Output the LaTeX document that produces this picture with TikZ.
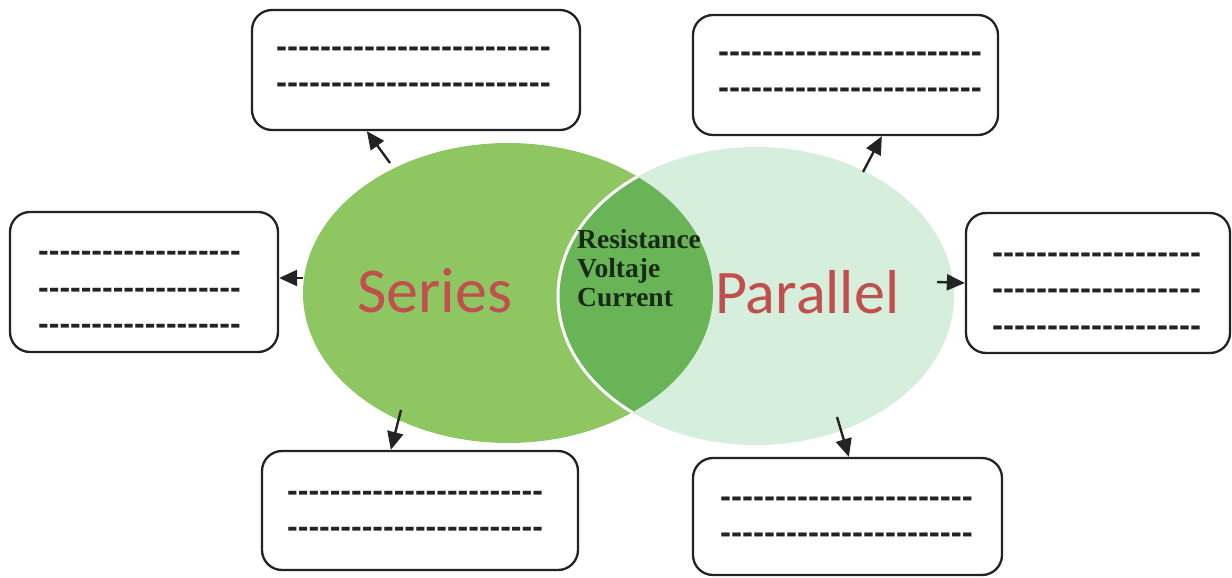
\documentclass[tikz,border=0pt]{standalone}
\usepackage{fontspec}
\usetikzlibrary{shapes.geometric,arrows.meta,calc}
\newfontfamily\dashfont[Ligatures=TeXOff]{Liberation Sans}
\newfontfamily\titlefont{Carlito}
\newfontfamily\midfont{Liberation Serif}
\definecolor{serC}{RGB}{142,198,98}
\definecolor{parC}{RGB}{214,239,220}
\definecolor{lensC}{RGB}{106,180,88}
\definecolor{titleT}{RGB}{192,80,77}
\definecolor{midT}{RGB}{22,42,22}
\definecolor{lineC}{RGB}{35,35,35}
\newcommand\hyrep[1]{\foreach \i in {1,...,#1}{-}}
\begin{document}
\begin{tikzpicture}[x=1pt,y=-1pt,
  box/.style={draw=lineC, line width=2.3pt, rounded corners=20pt, fill=white, inner sep=0pt},
  arr/.style={-{Triangle[length=18pt,width=16pt]}, line width=2.4pt, draw=lineC, fill=lineC},
  dashes/.style={anchor=base west, inner sep=0pt, text=lineC},
  blob/.style={ellipse, draw=none, inner sep=0pt}]
\useasboundingbox (0,0) rectangle (1232,578);
% Venn ellipses
\node[blob, fill=serC, minimum width=410pt, minimum height=300pt] (S) at (508,293) {};
\node[blob, fill=parC, minimum width=396pt, minimum height=298pt] (P) at (756,296) {};
\begin{scope}
  \clip (S.center) ellipse [x radius=205pt, y radius=150pt];
  \fill[lensC] (P.center) ellipse [x radius=198pt, y radius=149pt];
  \draw[white, line width=3pt] (P.center) ellipse [x radius=198pt, y radius=149pt];
\end{scope}
% texts in the ellipses
\node[anchor=base west, inner sep=0pt, text=titleT, font=\titlefont\fontsize{64}{64}\selectfont] (ser) at (357,312) {Series};
\node[anchor=base west, inner sep=0pt, text=titleT, font=\titlefont\fontsize{62}{62}\selectfont] (par) at (715,313) {Parallel};
\node[anchor=north west, inner sep=0pt, align=left, text=midT, font=\midfont\bfseries\fontsize{27.5}{29}\selectfont] (mid) at (577,229) {Resistance\\Voltaje\\Current};
% boxes
\node[box, minimum width=328pt, minimum height=120pt] (tl) at (416,70) {};
\node[box, minimum width=305pt, minimum height=120pt] (tr) at (845.5,75) {};
\node[box, minimum width=268pt, minimum height=140pt] (l) at (144,282) {};
\node[box, minimum width=264pt, minimum height=140pt] (r) at (1098,283) {};
\node[box, minimum width=316pt, minimum height=119pt] (bl) at (420,510.5) {};
\node[box, minimum width=309pt, minimum height=117pt] (br) at (847.5,516.5) {};
% dashed lines
\begin{scope}[every node/.append style={font=\dashfont\bfseries\fontsize{33}{33}\selectfont}]
\node[dashes] (tl1) at (276,58) {\hyrep{25}};
\node[dashes] (tl2) at (276,94) {\hyrep{25}};
\node[dashes] (tr1) at (718,63) {\hyrep{24}};
\node[dashes] (tr2) at (718,99) {\hyrep{24}};
\node[dashes] (r1) at (992,263) {\hyrep{19}};
\node[dashes] (r2) at (992,299) {\hyrep{19}};
\node[dashes] (r3) at (992,336) {\hyrep{19}};
\node[dashes] (br1) at (720,507) {\hyrep{23}};
\node[dashes] (br2) at (720,543) {\hyrep{23}};
\end{scope}
\begin{scope}[every node/.append style={font=\dashfont\bfseries\fontsize{32}{32}\selectfont}]
\node[dashes] (l1) at (38,261) {\hyrep{19}};
\node[dashes] (l2) at (38,298) {\hyrep{19}};
\node[dashes] (l3) at (38,334) {\hyrep{19}};
\node[dashes] (bl1) at (287,501) {\hyrep{24}};
\node[dashes] (bl2) at (287,537) {\hyrep{24}};
\end{scope}
% arrows
\draw[arr] ($(S.center)+(-118,-130)$) -- ($(tl.south west)+(116,0)$);
\draw[arr] ($(S.center)+(-205,-15)$) -- ($(l.east)+(0,-4)$);
\draw[arr] ($(S.center)+(-107,117)$) -- ($(bl.north west)+(130,0)$);
\draw[arr] ($(P.center)+(107,-124)$) -- ($(tr.south west)+(190,0)$);
\draw[arr] ($(P.center)+(181,-14)$) -- (r.west);
\draw[arr] ($(P.center)+(81,121)$) -- ($(br.north west)+(157,0)$);
\end{tikzpicture}
\end{document}
